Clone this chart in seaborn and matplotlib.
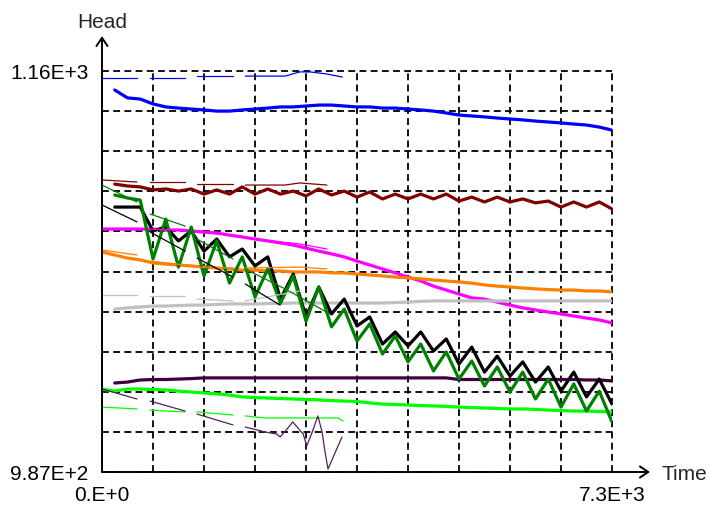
import numpy as np
import pandas as pd
import matplotlib
matplotlib.use("Agg")
import matplotlib.pyplot as plt
import seaborn as sns

nan = np.nan

# ---------------- data (simulated heads, half-year steps) ----------------
time = [0, 182.5, 365, 547.5, 730, 912.5, 1095, 1277.5, 1460, 1642.5, 1825,
        2007.5, 2190, 2372.5, 2555, 2737.5, 2920, 3102.5, 3285, 3467.5, 3650,
        3832.5, 4015, 4197.5, 4380, 4562.5, 4745, 4927.5, 5110, 5292.5, 5475,
        5657.5, 5840, 6022.5, 6205, 6387.5, 6570, 6752.5, 6935, 7117.5, 7300]

blue = [nan, 1151.8, 1148.4, 1147.9, 1145.8, 1144.5, 1144.0, 1143.6, 1143.2, 1142.7,
        1142.7, 1143.2, 1143.6, 1144.0, 1144.5, 1144.5, 1144.9, 1145.3, 1145.3, 1144.9,
        1144.5, 1144.5, 1144.0, 1144.0, 1143.6, 1143.2, 1142.7, 1141.9, 1141.0, 1140.6,
        1140.2, 1139.7, 1139.3, 1138.9, 1138.4, 1138.0, 1137.6, 1137.1, 1136.7, 1135.8, 1134.5]

maroon = [nan, 1111.2, 1110.4, 1110.0, 1108.7, 1109.1, 1108.2, 1109.1, 1106.9, 1108.7,
          1106.9, 1110.0, 1106.9, 1109.1, 1106.9, 1108.2, 1106.1, 1109.1, 1106.5, 1108.2,
          1105.6, 1107.8, 1104.8, 1106.9, 1104.8, 1106.9, 1104.8, 1106.9, 1103.9, 1105.6,
          1103.5, 1105.6, 1103.5, 1104.8, 1103.1, 1103.9, 1101.3, 1103.5, 1101.3, 1103.5, 1100.5]

black = [nan, 1101.3, 1101.3, 1101.3, 1091.0, 1092.7, 1086.7, 1091.0, 1082.3, 1087.5,
         1079.8, 1083.2, 1075.9, 1079.8, 1061.6, 1072.4, 1053.9, 1066.8, 1055.2, 1061.6,
         1050.0, 1053.9, 1042.2, 1047.4, 1041.4, 1047.4, 1039.2, 1044.4, 1033.6, 1040.9,
         1030.1, 1037.0, 1028.4, 1034.5, 1025.8, 1032.3, 1021.9, 1030.1, 1019.4, 1027.1, 1016.3]

green = [nan, 1106.5, 1105.2, 1104.3, 1078.9, 1096.1, 1075.4, 1092.7, 1071.6, 1086.7,
         1068.5, 1079.8, 1062.5, 1074.6, 1059.9, 1071.6, 1052.1, 1066.8, 1049.6, 1057.3,
         1043.5, 1050.9, 1037.9, 1045.7, 1034.5, 1042.2, 1030.6, 1038.8, 1027.1, 1034.9,
         1024.1, 1032.3, 1021.5, 1030.1, 1018.5, 1027.1, 1015.0, 1025.0, 1013.3, 1021.9, 1008.6]

magenta = [1091.8, 1091.8, 1091.8, 1091.8, 1091.8, 1091.4, 1091.4, 1091.0, 1090.5, 1090.1,
           1089.2, 1088.4, 1087.5, 1086.7, 1085.8, 1084.9, 1083.6, 1082.3, 1081.1, 1079.8,
           1078.0, 1076.3, 1074.6, 1072.9, 1071.1, 1069.4, 1067.2, 1065.5, 1063.8, 1062.1,
           1061.6, 1060.3, 1059.0, 1057.8, 1056.9, 1056.0, 1055.2, 1054.3, 1053.4, 1052.6, 1051.3]

orange = [1081.9, 1080.6, 1079.3, 1078.5, 1077.2, 1076.7, 1076.3, 1075.9, 1075.4, 1075.0,
          1074.6, 1074.1, 1074.1, 1073.7, 1073.7, 1073.3, 1073.3, 1073.3, 1072.9, 1072.9,
          1072.4, 1072.0, 1071.6, 1071.1, 1070.7, 1070.3, 1069.8, 1069.4, 1069.0, 1068.5,
          1067.7, 1067.2, 1066.8, 1066.4, 1066.0, 1065.7, 1065.5, 1065.5, 1065.1, 1065.1, 1064.7]

gray = [nan, 1057.3, 1057.8, 1058.2, 1058.6, 1058.6, 1058.8, 1059.0, 1059.0, 1059.3,
        1059.5, 1059.5, 1059.5, 1059.7, 1059.7, 1059.9, 1059.9, 1059.9, 1059.9, 1059.9,
        1059.9, 1059.9, 1059.9, 1060.1, 1060.3, 1060.6, 1060.8, 1060.8, 1060.8, 1060.8,
        1060.8, 1060.8, 1060.8, 1060.8, 1060.8, 1060.8, 1060.8, 1060.8, 1060.8, 1060.8, 1060.8]

purple = [nan, 1025.4, 1025.8, 1026.7, 1026.9, 1026.9, 1027.1, 1027.3, 1027.6, 1027.6,
          1027.6, 1027.6, 1027.6, 1027.6, 1027.6, 1027.6, 1027.6, 1027.6, 1027.6, 1027.6,
          1027.6, 1027.6, 1027.6, 1027.6, 1027.6, 1027.6, 1027.6, 1027.6, 1026.9, 1026.9,
          1026.9, 1026.9, 1026.9, 1026.9, 1026.9, 1026.9, 1026.9, 1026.9, 1026.7, 1026.7, 1026.3]

lime = [1022.8, 1021.9, 1022.8, 1022.8, 1022.6, 1022.4, 1021.9, 1021.5, 1021.1, 1020.7,
        1020.2, 1019.4, 1019.1, 1018.9, 1018.7, 1018.5, 1018.3, 1018.1, 1017.8, 1017.6,
        1017.4, 1016.8, 1016.3, 1016.1, 1015.9, 1015.7, 1015.5, 1015.3, 1015.0, 1014.8,
        1014.6, 1014.4, 1014.2, 1014.2, 1014.0, 1013.7, 1013.5, 1013.3, 1013.3, 1013.1, 1012.9]

# ---------------- observed heads (thin lines, NaN = no record) ----------------
obs_blue_t = [0, 500, 600, 690, 1190, 1275, 1360, 1875, 1960, 2050, 2620, 2830, 2980, 3220, 3440]
obs_blue = [1157.0, 1157.0, nan, 1157.0, 1157.0, nan, 1157.8, 1157.8, nan,
            1157.8, 1157.8, 1159.6, 1159.6, 1158.7, 1157.4]

obs_maroon_t = [0, 500, 600, 690, 1190, 1275, 1360, 1875, 1960, 2050, 2620, 2830, 3220]
obs_maroon = [1113.0, 1112.1, nan, 1112.1, 1112.1, nan, 1111.2, 1111.2, nan,
              1110.8, 1110.8, 1111.7, 1110.8]

obs_black_t = [0, 500, 600, 690, 1190, 1275, 1360, 1875, 1960, 2050, 2550]
obs_black = [1102.2, 1094.9, nan, 1090.5, 1082.3, nan, 1079.3, 1071.1, nan, 1068.1, 1059.0]

obs_green_t = [0, 500, 600, 690, 1190, 1275, 1360, 1875, 1960, 2050, 2620, 3260]
obs_green = [1110.8, 1103.5, nan, 1098.3, 1093.1, nan, 1087.5, 1078.9, nan, 1074.6, 1066.0, 1055.2]

obs_magenta_t = [0, 500, 600, 690, 1190, 1275, 1360, 1875, 1960, 2050, 2830, 3220]
obs_magenta = [1092.3, 1092.3, nan, 1091.8, 1091.4, nan, 1090.5, 1089.2, nan, 1087.9, 1085.4, 1083.2]

obs_orange_t = [0, 500, 600, 690, 1190, 1275, 1360, 1875, 1960, 2050, 2830, 3220]
obs_orange = [1082.8, 1080.6, nan, 1078.0, 1076.3, nan, 1075.4, 1075.0, nan, 1075.0, 1075.4, 1074.6]

obs_gray_t = [0, 500, 600, 690, 1190, 1275, 1360, 1875, 1960, 2050, 2830]
obs_gray = [1063.4, 1063.4, nan, 1062.9, 1062.9, nan, 1061.6, 1060.8, nan, 1060.8, 1065.1]

obs_lime_t = [0, 500, 600, 690, 1190, 1275, 1360, 1875, 1960, 2050, 2330, 3380, 3450]
obs_lime = [1015.0, 1014.2, nan, 1013.7, 1012.9, nan, 1012.9, 1011.6, nan, 1011.2, 1010.3, 1010.3, 1009.0]

obs_purple_t = [0, 500, 600, 690, 1190, 1275, 1360, 1875, 1960, 2050, 2330, 2500, 2550, 2650,
                2730, 2880, 2930, 3010, 3090, 3150, 3190, 3235, 3435]
obs_purple = [1022.8, 1018.5, nan, 1017.6, 1013.3, nan, 1012.0, 1007.3, nan, 1006.4, 1004.3,
              1003.4, 1002.1, 1005.6, 1008.6, 1003.4, 998.2, 1004.3, 1011.2, 1004.3, 996.1,
              988.3, 1002.1]

x_ticks = [0, 730, 1460, 2190, 2920, 3650, 4380, 5110, 5840, 6570, 7300]
x_tick_labels = ["0.E+0", "", "", "", "", "", "", "", "", "", "7.3E+3"]
y_ticks = [987.0, 1004.3, 1021.6, 1038.9, 1056.2, 1073.5, 1090.8, 1108.1, 1125.4, 1142.7, 1160.0]
y_tick_labels = ["9.87E+2", "", "", "", "", "", "", "", "", "", "1.16E+3"]
x_title = "Time"
y_title = "Head"

# ---------------- drawing ----------------
sns.set_style("white")
plt.rcParams["font.family"] = ["Liberation Sans", "DejaVu Sans"]

fig = plt.figure(figsize=(7.09, 5.06), dpi=100)
ax = fig.add_axes([102 / 709, 33 / 506, 510 / 709, 401 / 506])

THICK = 2.3
THIN = 0.9


def draw(t, y, color, lw, z):
    df = pd.DataFrame({"t": t, "head": y})
    df["seg"] = df["head"].isna().cumsum()
    df = df.dropna()
    sns.lineplot(data=df, x="t", y="head", units="seg", estimator=None,
                 color=color, lw=lw, ax=ax, zorder=z, legend=False, sort=False)


# simulated (thick)
draw(time, blue, "#0000ff", THICK, 3)
draw(time, maroon, "#800000", THICK, 3)
draw(time, magenta, "#ff00ff", THICK, 3)
draw(time, orange, "#ff8000", THICK, 3)
draw(time, gray, "#c0c0c0", THICK, 3)
draw(time, purple, "#400040", THICK, 3)
draw(time, lime, "#00ff00", THICK, 3)
draw(time, black, "#000000", THICK, 4)
draw(time, green, "#008000", THICK, 5)

# observed (thin)
draw(obs_blue_t, obs_blue, "#0000ff", THIN, 6)
draw(obs_maroon_t, obs_maroon, "#800000", THIN, 6)
draw(obs_magenta_t, obs_magenta, "#ff00ff", THIN, 6)
draw(obs_orange_t, obs_orange, "#ff8000", THIN, 6)
draw(obs_gray_t, obs_gray, "#c0c0c0", THIN, 6)
draw(obs_lime_t, obs_lime, "#00ff00", THIN, 6)
draw(obs_black_t, obs_black, "#000000", THIN, 6)
draw(obs_green_t, obs_green, "#008000", THIN, 6)
draw(obs_purple_t, obs_purple, "#5a1e5a", THIN, 6)

ax.set_xlim(0, 7300)
ax.set_ylim(987, 1160)
ax.set_xlabel("")
ax.set_ylabel("")
ax.set_xticks(x_ticks)
ax.set_xticklabels(x_tick_labels)
ax.set_yticks(y_ticks)
ax.set_yticklabels(y_tick_labels)
ax.tick_params(axis="both", direction="out", length=7.2, width=1.4, color="black",
               labelsize=15, labelcolor="black")
ax.tick_params(axis="y", pad=2.5)
ax.tick_params(axis="x", pad=2.0)

ax.grid(True, color="black", lw=1.3, linestyle=(0, (3.8, 2.4)))
for gl in ax.get_xgridlines() + ax.get_ygridlines():
    gl.set_clip_on(False)
ax.set_axisbelow(True)

for s in ax.spines.values():
    s.set_visible(False)

arrow = dict(arrowstyle="->,head_length=0.6,head_width=0.4", lw=1.4, color="black",
             shrinkA=0, shrinkB=0)
ax.annotate("", xy=(0, (473 - 37) / 401), xytext=(0, 0), xycoords="axes fraction",
            arrowprops=arrow, annotation_clip=False, zorder=10)
ax.annotate("", xy=((650 - 102) / 510, 0), xytext=(0, 0), xycoords="axes fraction",
            arrowprops=arrow, annotation_clip=False, zorder=10)

ax.text(0, (473 - 22) / 401, y_title, ha="center", va="center", fontsize=15,
        transform=ax.transAxes)
ax.text((662 - 102) / 510, 0, x_title, ha="left", va="center_baseline", fontsize=15,
        transform=ax.transAxes)

fig.savefig("out.png", dpi=100)
